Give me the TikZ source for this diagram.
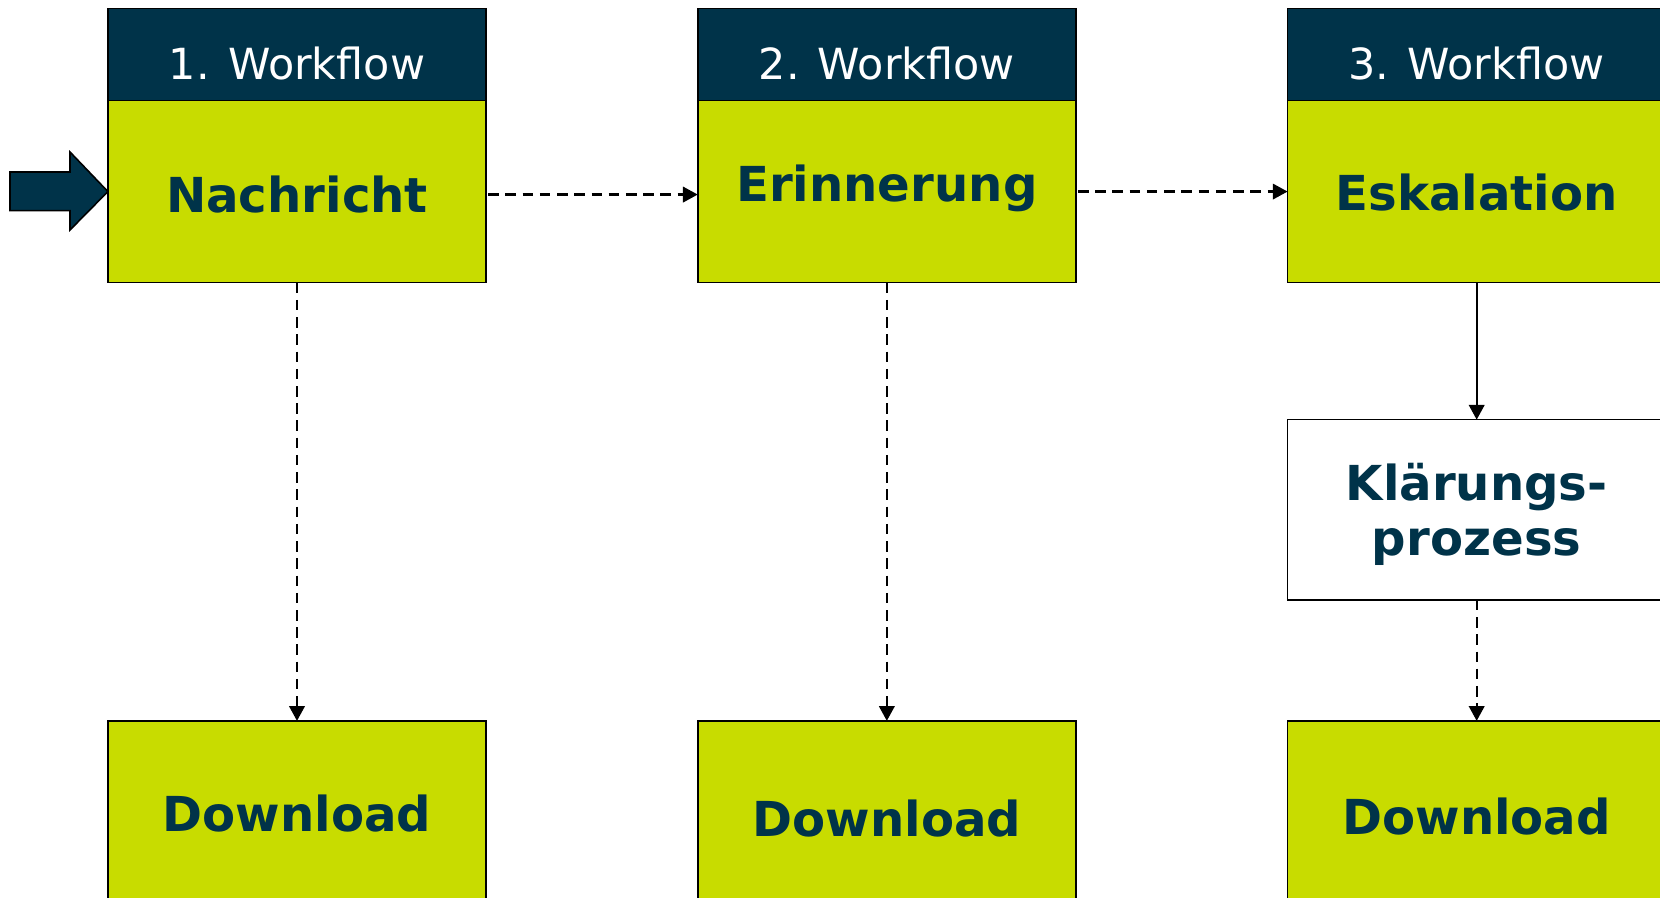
\documentclass[tikz,border=0pt]{standalone}
\usepackage{fontspec}
\setmainfont{DejaVu Sans}
\usetikzlibrary{positioning,arrows.meta}
\definecolor{marine}{RGB}{0,51,73}
\definecolor{limette}{RGB}{200,220,0}

\begin{document}
\begin{tikzpicture}[
      x=0.01cm, y=-0.01cm,
      kopf/.style={
        draw,
        fill=marine,
        text=white,
        minimum width=3.78cm,
        minimum height=0.92cm,
        inner sep=0pt,
        outer sep=0pt,
        line width=0.45pt,
        text height=14.2pt,
        text depth=0pt,
        font=\fontsize{12.2}{14}\selectfont
      },
      feld/.style={
        draw,
        fill=limette,
        text=marine,
        minimum width=3.78cm,
        minimum height=1.82cm,
        inner sep=0pt,
        outer sep=0pt,
        line width=0.45pt,
        text depth=0pt,
        font=\bfseries\fontsize{13.7}{15.6}\selectfont
      },
      weiss/.style={
        feld,
        fill=white,
        minimum height=1.8cm,
        align=center
      },
      pfeil/.style={
        -{Triangle[length=4.2pt,width=4.4pt]},
        line width=0.65pt
      },
      strich/.style={
        pfeil,
        dash pattern=on 3pt off 1.9pt
      }
    ]
    \useasboundingbox (0,0) rectangle (1660,898);
    \clip (0,0) rectangle (1660,898);

    \node[kopf] (kopf1) at (297,54.5) {1. Workflow} ;
    \node[kopf, right=2.115cm of kopf1] (kopf2) {2. Workflow} ;
    \node[kopf, right=2.115cm of kopf2] (kopf3) {3. Workflow} ;

    \node[feld, below=0pt of kopf1, text height=11.8pt] (nach) {Nachricht} ;
    \node[feld, below=0pt of kopf2, text height=5.9pt]  (erin) {Erinnerung} ;
    \node[feld, below=0pt of kopf3, text height=10.9pt] (eska) {Eskalation} ;

    \node[weiss, below=1.37cm of eska] (klaer) {Klärungs-\\prozess} ;

    \node[feld, below=4.38cm of nach, text height=11.3pt]  (dl1) {Download} ;
    \node[feld, below=4.38cm of erin, text height=14.1pt]  (dl2) {Download} ;
    \node[feld, below=1.21cm of klaer, text height=12.8pt] (dl3) {Download} ;

    % Eingangspfeil
    \draw[fill=marine, line width=0.45pt]
       (10,172) -- (70,172) -- (70,152) -- (nach.west)
       -- (70,230) -- (70,210.7) -- (10,210.7) -- cycle ;

    \draw[strich] ([shift={(2,3)}]nach.east) -- ([shift={(0,3)}]erin.west) ;
    \draw[strich] ([shift={(2,0)}]erin.east) -- (eska.west) ;
    \draw[strich] (nach) -- (dl1) ;
    \draw[strich] (erin) -- (dl2) ;
    \draw[pfeil]  (eska) -- (klaer) ;
    \draw[strich] (klaer) -- (dl3) ;
  \end{tikzpicture}
\end{document}
